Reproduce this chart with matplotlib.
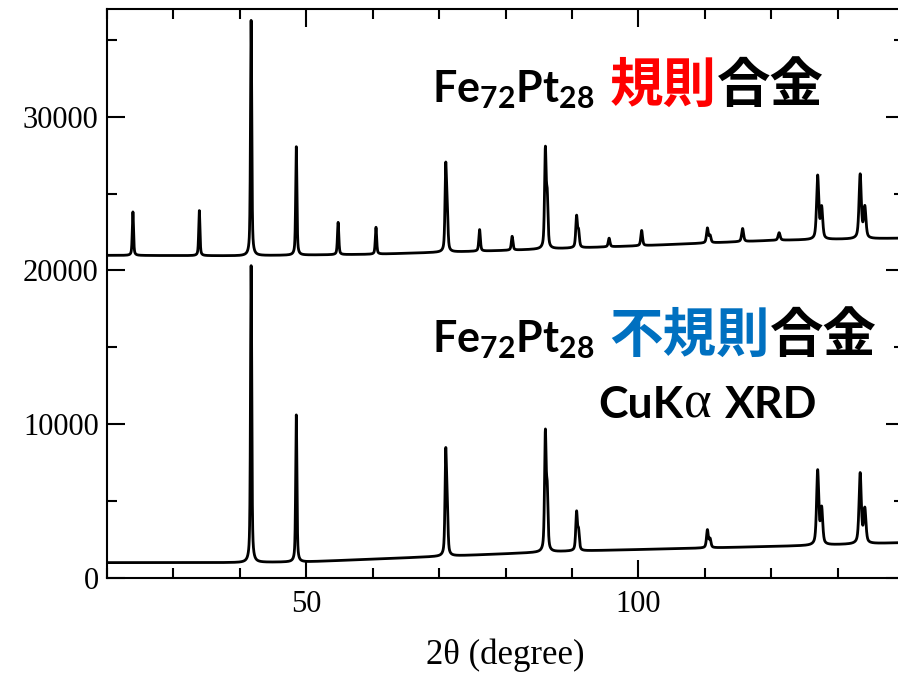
import numpy as np
import matplotlib
matplotlib.use("Agg")
import matplotlib.pyplot as plt
from matplotlib.ticker import MultipleLocator, FixedLocator

# ---- Fe72Pt28 ordered alloy (offset pattern) ----
ordered_peak_2theta = [23.9, 33.9, 41.7, 48.5, 54.8, 60.5, 71.0, 71.22, 76.1, 81.0,
                       86.0, 86.28, 90.7, 91.0, 95.6, 100.5, 110.4, 110.8, 115.7,
                       121.2, 127.0, 127.6, 133.4, 134.1]
ordered_peak_counts = [2830, 2930, 15300, 7050, 2100, 1750, 5300, 2600, 1400, 900,
                       6250, 3100, 2000, 1000, 560, 990, 950, 450, 850,
                       490, 4100, 2000, 4150, 2000]
ordered_peak_fwhm = [0.22, 0.22, 0.22, 0.22, 0.24, 0.24, 0.26, 0.26, 0.27, 0.28,
                     0.28, 0.28, 0.29, 0.29, 0.30, 0.30, 0.32, 0.32, 0.34,
                     0.36, 0.38, 0.38, 0.40, 0.40]
ordered_bg_2theta = [20, 40, 60, 80, 100, 120, 140]
ordered_bg_counts = [20980, 20950, 21050, 21300, 21600, 21950, 22100]

# ---- Fe72Pt28 disordered alloy ----
disordered_peak_2theta = [41.7, 48.5, 71.0, 71.22, 86.0, 86.28, 90.7, 91.0,
                          110.4, 110.8, 127.0, 127.6, 133.4, 134.1]
disordered_peak_counts = [19300, 9560, 6400, 3100, 7500, 3600, 2450, 1200,
                          1150, 550, 4800, 2300, 4550, 2200]
disordered_peak_fwhm = [0.22, 0.22, 0.26, 0.26, 0.28, 0.28, 0.29, 0.29,
                        0.32, 0.32, 0.38, 0.38, 0.40, 0.40]
disordered_bg_2theta = [20, 40, 50, 70, 90, 110, 125, 140]
disordered_bg_counts = [1000, 1000, 1050, 1400, 1750, 1950, 2100, 2300]

x_ticks_major = [50, 100]
y_ticks_major = [0, 10000, 20000, 30000]


def pattern(tt, pos, counts, fwhm, bg_x, bg_y, eta=0.55):
    """Pseudo-Voigt peaks on a background."""
    y = np.interp(tt, bg_x, bg_y).astype(float)
    for p, h, w in zip(pos, counts, fwhm):
        u = (tt - p) / (w / 2.0)
        y += h * (eta / (1.0 + u ** 2) + (1 - eta) * np.exp(-np.log(2) * u ** 2))
    return y


two_theta = np.arange(20.0, 140.0, 0.01)
y_ord = pattern(two_theta, ordered_peak_2theta, ordered_peak_counts,
                ordered_peak_fwhm, ordered_bg_2theta, ordered_bg_counts)
y_dis = pattern(two_theta, disordered_peak_2theta, disordered_peak_counts,
                disordered_peak_fwhm, disordered_bg_2theta, disordered_bg_counts)

plt.rcParams["font.family"] = ["Liberation Serif", "DejaVu Serif"]
plt.rcParams["mathtext.fontset"] = "custom"
plt.rcParams["mathtext.bf"] = "Lato:bold"
plt.rcParams["mathtext.rm"] = "Lato:bold"

W, H = 898, 675
fig = plt.figure(figsize=(W / 100, H / 100), dpi=100)
ax = fig.add_axes([107 / W, 97 / H, (904 - 107) / W, (666 - 97) / H])

ax.plot(two_theta, y_ord, color="black", lw=2.0)
ax.plot(two_theta, y_dis, color="black", lw=2.0)

ax.set_xlim(20, 140)
ax.set_ylim(0, 37000)
ax.xaxis.set_major_locator(FixedLocator(x_ticks_major))
ax.xaxis.set_minor_locator(MultipleLocator(10))
ax.yaxis.set_major_locator(FixedLocator(y_ticks_major))
ax.yaxis.set_minor_locator(MultipleLocator(5000))
ax.tick_params(which="both", direction="in", top=True, right=True, width=1.5,
               labelsize=22)
ax.tick_params(which="major", length=13)
ax.tick_params(which="minor", length=7)
ax.tick_params(axis="x", which="major", pad=9)
ax.tick_params(axis="y", which="major", pad=6)
for s in ax.spines.values():
    s.set_linewidth(1.5)

ax.set_xlabel("2θ (degree)", fontsize=25, labelpad=14)

renderer = fig.canvas.get_renderer()
sans_bold = dict(family=["Lato", "DejaVu Sans"], weight="bold")
cjk_bold = dict(family=["Noto Sans CJK JP", "DejaVu Sans"], weight="bold")


def text_run(pieces, x_px, y_px):
    x = x_px
    for s, gap, kw in pieces:
        x += gap
        t = fig.text(x / W, y_px / H, s, ha="left", va="baseline", **kw)
        bb = t.get_window_extent(renderer)
        x = bb.x1


formula = r"$\mathbf{Fe}_{\mathbf{72}}\mathbf{Pt}_{\mathbf{28}}$"
text_run([
    (formula, 0, dict(fontsize=31, color="black")),
    ("規則", 15, dict(fontsize=38.5, color="#ff0000", **cjk_bold)),
    ("合金", 0, dict(fontsize=38.5, color="black", **cjk_bold)),
], 432, 573)

text_run([
    (formula, 0, dict(fontsize=31, color="black")),
    ("不規則", 15, dict(fontsize=38.5, color="#0070c0", **cjk_bold)),
    ("合金", 0, dict(fontsize=38.5, color="black", **cjk_bold)),
], 432, 323)

text_run([
    ("CuK", 0, dict(fontsize=32, color="black", **sans_bold)),
    ("α", 1, dict(fontsize=38, color="black",
                  family=["Liberation Serif", "DejaVu Serif"])),
    ("XRD", 13, dict(fontsize=32, color="black", **sans_bold)),
], 598, 257)

fig.savefig("out.png", dpi=100)
